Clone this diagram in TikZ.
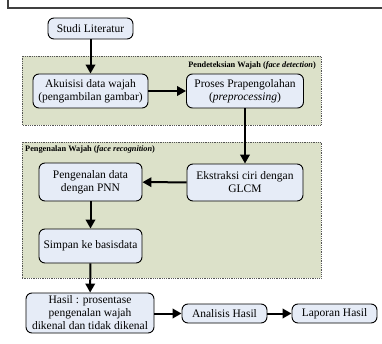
\documentclass[tikz,border=0pt]{standalone}
\usepackage{fontspec}
\setmainfont{Liberation Serif}
\usetikzlibrary{arrows.meta}
\definecolor{boxfill}{HTML}{E6ECF7}
\definecolor{grpfill}{HTML}{DCE1C9}
\definecolor{grpline}{HTML}{555555}
\tikzset{
  x=1pt,y=1pt,
  stepbox/.style={draw=black, line width=0.9pt, fill=boxfill, rounded corners=6pt,
    align=center, inner sep=1pt, font=\fontsize{11.5}{13}\selectfont},
  grp/.style={draw=grpline, line width=0.8pt, densely dotted, fill=grpfill},
  grplabel/.style={font=\fontsize{8.3}{10}\selectfont\bfseries, inner sep=0pt},
  flow/.style={line width=2pt, -{Triangle[length=9pt,width=9.5pt]}},
}
\begin{document}
\begin{tikzpicture}
\useasboundingbox (0,0) rectangle (382,343);
\fill[white] (0,0) rectangle (382,343);
% outer frame (open)
\draw[line width=1.5pt, color=black!75] (8,343) -- (8,335) -- (382,335);
% groups
\draw[grp] (22,218) rectangle (321,287);
\draw[grp] (22,65) rectangle (321,201);
\node[grplabel, anchor=east] (lab1) at (316,278) {Pendeteksian Wajah (\textit{face detection})};
\node[grplabel, anchor=west] (lab2) at (25,194) {Pengenalan Wajah (\textit{face recognition})};
% nodes
\node[stepbox, minimum width=85pt, minimum height=21pt] (studi) at (90.5,314.5) {Studi Literatur};
\node[stepbox, minimum width=115pt, minimum height=34pt] (akuisisi) at (90.5,252) {Akuisisi data wajah\\(pengambilan gambar)};
\node[stepbox, minimum width=117pt, minimum height=34pt] (proses) at (245,252) {Proses Prapengolahan\\(\textit{preprocessing})};
\node[stepbox, minimum width=116pt, minimum height=37pt] (ekstraksi) at (245,160.5) {Ekstraksi ciri dengan\\GLCM};
\node[stepbox, minimum width=103pt, minimum height=38pt] (pengenalan) at (90.5,161) {Pengenalan data\\dengan PNN};
\node[stepbox, minimum width=103pt, minimum height=34pt] (simpan) at (90.5,97) {Simpan ke basisdata};
\node[stepbox, minimum width=128pt, minimum height=40pt] (hasil) at (90,30) {Hasil : prosentase\\pengenalan wajah\\dikenal dan tidak dikenal};
\node[stepbox, minimum width=85pt, minimum height=19pt] (analisis) at (224.5,29.5) {Analisis Hasil};
\node[stepbox, minimum width=85pt, minimum height=19pt] (laporan) at (334.5,29.5) {Laporan Hasil};
% connectors
\draw[flow] (studi) -- (akuisisi);
\draw[flow] (akuisisi) -- (proses);
\draw[flow] (proses) -- (ekstraksi);
\draw[flow] (ekstraksi) -- (pengenalan);
\draw[flow] (pengenalan) -- (simpan);
\draw[flow] (simpan) -- (hasil);
\draw[flow] (hasil.east |- analisis) -- (analisis);
\draw[flow] (analisis) -- (laporan);
\end{tikzpicture}
\end{document}
